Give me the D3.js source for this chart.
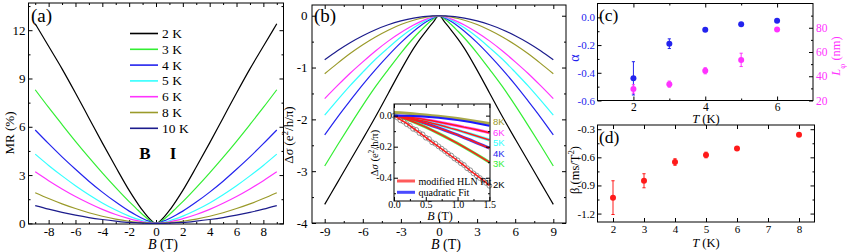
<!DOCTYPE html>
<html>
<head>
<meta charset="utf-8">
<script src="https://cdn.jsdelivr.net/npm/d3@7"></script>
<style>
body { margin: 0; background: #fff; }
svg { font-family: "Liberation Serif", "Times New Roman", serif; }
</style>
</head>
<body>
<script>
// ---- data ----
var temps = ["2 K", "3 K", "4 K", "5 K", "6 K", "8 K", "10 K"];
var colors = ["#000000", "#33ee33", "#2323ee", "#33ffff", "#ff33ff", "#9a9a2a", "#1c1c8c"];
var field = [0, 0.5, 1, 1.5, 2, 3, 4, 5, 6, 7, 8, 9];

// (a) MR (%)
var mr2K  = [0, 0.3, 0.8, 1.4, 2.05, 3.5, 5.0, 6.55, 8.1, 9.6, 11.0, 12.4];
var mr3K  = [0, 0.2, 0.55, 0.95, 1.35, 2.22, 3.14, 4.1, 5.1, 6.14, 7.2, 8.3];
var mr4K  = [0, 0.12, 0.3, 0.52, 0.76, 1.32, 1.94, 2.62, 3.36, 4.13, 4.95, 5.8];
var mr5K  = [0, 0.06, 0.16, 0.29, 0.45, 0.83, 1.27, 1.78, 2.34, 2.95, 3.6, 4.3];
var mr6K  = [0, 0.03, 0.1, 0.18, 0.29, 0.55, 0.87, 1.25, 1.67, 2.14, 2.65, 3.2];
var mr8K  = [0, 0.01, 0.04, 0.08, 0.13, 0.26, 0.44, 0.66, 0.92, 1.21, 1.54, 1.9];
var mr10K = [0, 0.005, 0.02, 0.04, 0.06, 0.14, 0.24, 0.36, 0.51, 0.68, 0.88, 1.1];

// (b) delta sigma (e^2/h/pi)
var ds2K  = [0, -0.14, -0.29, -0.45, -0.63, -1.05, -1.5, -1.95, -2.38, -2.8, -3.22, -3.64];
var ds3K  = [0, -0.074, -0.178, -0.3, -0.43, -0.72, -1.04, -1.37, -1.73, -2.11, -2.5, -2.9];
var ds4K  = [0, -0.046, -0.118, -0.205, -0.3, -0.52, -0.77, -1.04, -1.33, -1.64, -1.96, -2.3];
var ds5K  = [0, -0.034, -0.089, -0.156, -0.234, -0.41, -0.62, -0.84, -1.09, -1.35, -1.63, -1.92];
var ds6K  = [0, -0.024, -0.066, -0.119, -0.18, -0.325, -0.49, -0.68, -0.89, -1.11, -1.35, -1.6];
var ds8K  = [0, -0.008, -0.027, -0.053, -0.087, -0.17, -0.28, -0.41, -0.56, -0.73, -0.92, -1.12];
var ds10K = [0, -0.003, -0.012, -0.026, -0.045, -0.10, -0.175, -0.27, -0.385, -0.52, -0.675, -0.85];

// (b) inset, low field
var inField = [0, 0.1, 0.2, 0.3, 0.4, 0.5, 0.6, 0.7, 0.8, 0.9, 1.0, 1.1, 1.2, 1.3, 1.4, 1.5];
var in2K = [0, -0.025, -0.05, -0.08, -0.11, -0.14, -0.17, -0.2, -0.23, -0.26, -0.29, -0.32, -0.355, -0.385, -0.415, -0.45];
var in3K = [0, -0.01, -0.023, -0.039, -0.056, -0.074, -0.094, -0.114, -0.135, -0.157, -0.179, -0.202, -0.226, -0.25, -0.275, -0.3];
var in4K = [0, -0.006, -0.015, -0.026, -0.038, -0.051, -0.065, -0.079, -0.094, -0.109, -0.124, -0.141, -0.157, -0.175, -0.192, -0.21];
var in5K = [0, -0.0045, -0.011, -0.02, -0.029, -0.038, -0.049, -0.059, -0.07, -0.082, -0.093, -0.106, -0.118, -0.131, -0.144, -0.157];
var in6K = [0, -0.003, -0.007, -0.013, -0.019, -0.026, -0.033, -0.041, -0.049, -0.057, -0.065, -0.074, -0.082, -0.091, -0.1, -0.11];
var in8K = [0.02, 0.018, 0.015, 0.012, 0.008, 0.004, 0, -0.004, -0.009, -0.014, -0.019, -0.025, -0.031, -0.037, -0.044, -0.051];
var inQuad = [0, -0.0003, -0.0012, -0.0026, -0.0046, -0.0072, -0.0104, -0.0142, -0.0185, -0.0234, -0.0289, -0.035, -0.0416, -0.0488, -0.0566, -0.065];
var dotField = [0, 0.05, 0.1, 0.15, 0.2, 0.25, 0.3, 0.35, 0.4, 0.45, 0.5, 0.55, 0.6, 0.65, 0.7, 0.75,
                0.8, 0.85, 0.9, 0.95, 1.0, 1.05, 1.1, 1.15, 1.2, 1.25, 1.3, 1.35, 1.4, 1.45, 1.5];
var dot2K = [0, -0.012, -0.03, -0.038, -0.055, -0.066, -0.085, -0.092, -0.112, -0.121, -0.142, -0.15, -0.172, -0.181, -0.198, -0.213,
             -0.228, -0.245, -0.257, -0.276, -0.288, -0.306, -0.318, -0.339, -0.352, -0.372, -0.386, -0.402, -0.418, -0.434, -0.452];
var inLabels = ["8K", "6K", "5K", "4K", "3K", "2K"];
var inLabelColors = ["#9a9a2a", "#ff33ff", "#33ffff", "#2323ee", "#33ee33", "#000000"];

// (c) alpha and L_phi
var tempC = [2, 3, 4, 5, 6];
var alpha = [-0.44, -0.19, -0.09, -0.05, -0.025];
var alphaErr = [0.12, 0.035, 0.008, 0.006, 0.005];
var lphi = [29.5, 33.5, 44.5, 53.5, 78.5];
var lphiErr = [3.5, 2.5, 2.5, 5.5, 1];

// (d) beta
var tempD = [2, 3, 4, 5, 6, 8];
var beta = [-1.03, -0.85, -0.65, -0.575, -0.505, -0.36];
var betaErr = [0.18, 0.075, 0.035, 0.03, 0.02, 0.012];

// ---- helpers ----
var svg = d3.select("body").append("svg")
    .attr("width", 847)
    .attr("height", 252);

function fmt(p) {
  var f = d3.format(p);
  return function(d) { return f(d).replace("\u2212", "-"); };
}

function mirror(b, v) {
  var pts = b.map(function(d, i) { return [d, v[i]]; });
  return pts.slice(1).map(function(p) { return [-p[0], p[1]]; }).reverse().concat(pts);
}

function axis(g, gen, pos, vals, size, f, pad, fs) {
  var a = g.append("g")
      .attr("transform", pos)
      .call(gen.tickValues(vals).tickSize(size).tickPadding(pad === undefined ? 3 : pad).tickFormat(f || ""));
  a.select(".domain").remove();
  a.attr("font-family", null).attr("font-size", fs || 13);
  a.selectAll("line").style("stroke", "#000");
  return a;
}

function box(g, w, h) {
  g.append("rect")
      .attr("width", w)
      .attr("height", h)
      .style("fill", "none")
      .style("stroke", "#000")
      .style("stroke-width", 1);
}

function frame(g, x, y, w, h, o) {
  var b = "translate(0," + h + ")", r = "translate(" + w + ",0)";
  axis(g, d3.axisBottom(x), b, o.xt, -4, o.fx, o.px, o.fs);
  axis(g, d3.axisBottom(x), b, o.xm, -2);
  axis(g, d3.axisTop(x), null, o.xt, -4);
  axis(g, d3.axisTop(x), null, o.xm, -2);
  axis(g, d3.axisLeft(y), null, o.yt, -4, o.fy, o.py, o.fs);
  axis(g, d3.axisLeft(y), null, o.ym, -2);
  axis(g, d3.axisRight(y), r, o.yt, -4);
  axis(g, d3.axisRight(y), r, o.ym, -2);
  box(g, w, h);
}

function label(txt, x, y, size, opts) {
  opts = opts || {};
  var t = svg.append("text")
      .attr("x", x)
      .attr("y", y)
      .attr("font-size", size)
      .attr("text-anchor", opts.anchor || "middle")
      .style("fill", opts.color || "#000");
  if (opts.rotate) t.attr("transform", "rotate(-90," + x + "," + y + ")");
  if (opts.weight) t.attr("font-weight", opts.weight);
  txt.forEach(function(p) {
    var s = t.append("tspan").text(p.t);
    if (p.i) s.attr("font-style", "italic");
    if (p.sup) s.attr("baseline-shift", "super").attr("font-size", size * 0.7);
    if (p.sub) s.attr("baseline-shift", "sub").attr("font-size", size * 0.7);
  });
  return t;
}

// ---- (a) MR ----
var wA = 255, hA = 221;
var gA = svg.append("g").attr("transform", "translate(28.5,3)");
var xA = d3.scaleLinear().domain([-9.5, 9.5]).range([0, wA]);
var yA = d3.scaleLinear().domain([-0.04, 13.69]).range([hA, 0]);
var lineA = d3.line().x(function(d) { return xA(d[0]); }).y(function(d) { return yA(d[1]); }).curve(d3.curveMonotoneX);

frame(gA, xA, yA, wA, hA, {
  xt: [-8, -6, -4, -2, 0, 2, 4, 6, 8], xm: [-9, -7, -5, -3, -1, 1, 3, 5, 7, 9],
  yt: [0, 3, 6, 9, 12], ym: [1.5, 4.5, 7.5, 10.5, 13.5],
  fx: fmt("d"), fy: fmt("d"), px: 3, py: 3, fs: 13
});

var mrSeries = [mr2K, mr3K, mr4K, mr5K, mr6K, mr8K, mr10K];
mrSeries.forEach(function(s, i) {
  gA.append("path")
      .attr("d", lineA(mirror(field, s)))
      .style("fill", "none")
      .style("stroke", colors[i])
      .style("stroke-width", 1.2);
});

var legA = gA.append("g").attr("transform", "translate(101.5,30.5)");
temps.forEach(function(t, i) {
  legA.append("line")
      .attr("x1", 0).attr("x2", 28)
      .attr("y1", i * 15.8).attr("y2", i * 15.8)
      .style("stroke", colors[i])
      .style("stroke-width", 1.6);
  legA.append("text")
      .attr("x", 32).attr("y", i * 15.8 + 4.5)
      .attr("font-size", 13.5)
      .text(t);
});

label([{t: "(a)"}], 31, 22, 19, {anchor: "start"});
label([{t: "B"}], 145, 159, 17, {weight: "bold"});
label([{t: "I"}], 173, 159, 17, {weight: "bold"});
label([{t: "MR (%)"}], 14, 133, 13, {rotate: true});
label([{t: "B", i: true}, {t: " (T)"}], 148, 249, 14, {anchor: "start"});

// ---- (b) delta sigma ----
var wB = 254, hB = 218;
var gB = svg.append("g").attr("transform", "translate(312,5)");
var xB = d3.scaleLinear().domain([-10, 10]).range([0, wB]);
var yB = d3.scaleLinear().domain([-4, 0.207]).range([hB, 0]);
var lineB = d3.line().x(function(d) { return xB(d[0]); }).y(function(d) { return yB(d[1]); }).curve(d3.curveMonotoneX);

frame(gB, xB, yB, wB, hB, {
  xt: [-9, -6, -3, 0, 3, 6, 9], xm: [-7.5, -4.5, -1.5, 1.5, 4.5, 7.5],
  yt: [-4, -3, -2, -1, 0], ym: [-3.5, -2.5, -1.5, -0.5],
  fx: fmt("d"), fy: fmt("d"), px: 3.5, py: 4.5, fs: 13
});

var dsSeries = [ds2K, ds3K, ds4K, ds5K, ds6K, ds8K, ds10K];
dsSeries.forEach(function(s, i) {
  gB.append("path")
      .attr("d", lineB(mirror(field, s)))
      .style("fill", "none")
      .style("stroke", colors[i])
      .style("stroke-width", 1.2);
});

label([{t: "(b)"}], 314, 22, 19, {anchor: "start"});
label([{t: "\u0394"}, {t: "\u03c3", i: true}, {t: " (e"}, {t: "2", sup: true}, {t: "/h/\u03c0)"}], 293, 135, 13, {rotate: true});
label([{t: "B", i: true}, {t: " (T)"}], 431, 249, 14, {anchor: "start"});

// inset
var wI = 96, hI = 97;
var gI = svg.append("g").attr("transform", "translate(394,104)");
gI.append("rect").attr("width", wI).attr("height", hI).style("fill", "#fff");
var xI = d3.scaleLinear().domain([0, 1.51]).range([0, wI]);
var yI = d3.scaleLinear().domain([-0.55, 0.075]).range([hI, 0]);
var lineI = d3.line().x(function(d) { return xI(d[0]); }).y(function(d) { return yI(d[1]); });
function pairs(b, v) { return b.map(function(d, i) { return [d, v[i]]; }); }

var inData = [[in8K, "#9a9a2a"], [in6K, "#ff33ff"], [in5K, "#33ffff"], [in4K, "#2323ee"], [in3K, "#33ee33"]];
inData.forEach(function(s) {
  gI.append("path")
      .attr("d", lineI(pairs(inField, s[0])))
      .style("fill", "none")
      .style("stroke", s[1])
      .style("stroke-width", 3)
      .style("opacity", 0.85);
});

gI.selectAll("circle.d2")
    .data(pairs(dotField, dot2K))
  .enter().append("circle")
    .attr("cx", function(d) { return xI(d[0]); })
    .attr("cy", function(d) { return yI(d[1]); })
    .attr("r", 2.4)
    .style("fill", "none")
    .style("stroke", "#777")
    .style("stroke-width", 0.8);

[in2K, in3K, in4K, in5K, in6K].forEach(function(s) {
  gI.append("path")
      .attr("d", lineI(pairs(inField, s)))
      .style("fill", "none")
      .style("stroke", "#ff1a1a")
      .style("stroke-width", 1.5);
});
gI.append("path")
    .attr("d", lineI(pairs(inField, inQuad)))
    .style("fill", "none")
    .style("stroke", "#1a1aff")
    .style("stroke-width", 2);

frame(gI, xI, yI, wI, hI, {
  xt: [0, 0.5, 1, 1.5], xm: [0.25, 0.75, 1.25],
  yt: [-0.4, -0.2, 0], ym: [-0.5, -0.3, -0.1],
  fx: fmt(".1f"), fy: fmt(".1f"), px: 0, py: 2, fs: 10
});

var legI = gI.append("g").attr("transform", "translate(3,77)");
[["modified HLN Fit", "#ff5a5a"], ["quadratic Fit", "#4a4aff"]].forEach(function(d, i) {
  legI.append("line")
      .attr("x1", 0).attr("x2", 18)
      .attr("y1", i * 11.3).attr("y2", i * 11.3)
      .style("stroke", d[1])
      .style("stroke-width", 3);
  legI.append("text")
      .attr("x", 21.5).attr("y", i * 11.3 + 3.5)
      .attr("font-size", 10)
      .text(d[0]);
});

var inLabelY = [121.5, 132, 142.5, 153, 163.5, 184.5];
inLabels.forEach(function(t, i) {
  svg.append("text")
      .attr("x", 493)
      .attr("y", inLabelY[i] + 3.5)
      .attr("font-family", "Liberation Sans, Arial, sans-serif")
      .attr("font-size", 9.5)
      .style("fill", inLabelColors[i])
      .text(t);
});
label([{t: "\u0394"}, {t: "\u03c3", i: true}, {t: " (e"}, {t: "2", sup: true}, {t: "/h/\u03c0)"}], 377.5, 153, 10.5, {rotate: true});
label([{t: "B", i: true}, {t: " (T)"}], 440, 219.5, 12);

// ---- (c) alpha, L_phi ----
var wC = 215.5, hC = 97;
var gC = svg.append("g").attr("transform", "translate(597.5,3.5)");
var xC = d3.scaleLinear().domain([1, 7]).range([0, wC]);
var yC = d3.scaleLinear().domain([-0.6, 0.1]).range([hC, 0]);
var yC2 = d3.scaleLinear().domain([20, 100]).range([hC, 0]);

var b = "translate(0," + hC + ")", r = "translate(" + wC + ",0)";
axis(gC, d3.axisBottom(xC), b, [2, 4, 6], -4, fmt("d"), 2, 11.5);
axis(gC, d3.axisBottom(xC), b, [3, 5], -2);
axis(gC, d3.axisTop(xC), null, [2, 4, 6], -4);
axis(gC, d3.axisTop(xC), null, [3, 5], -2);
axis(gC, d3.axisLeft(yC), null, [-0.6, -0.4, -0.2, 0], -4, fmt(".1f"), 2.5, 11)
    .selectAll("text").style("fill", "#2323ee");
axis(gC, d3.axisLeft(yC), null, [-0.5, -0.3, -0.1], -2);
axis(gC, d3.axisRight(yC2), r, [20, 40, 60, 80], -4, fmt("d"), 3, 11.5)
    .selectAll("text").style("fill", "#ff33ff");
axis(gC, d3.axisRight(yC2), r, [30, 50, 70, 90], -2);
box(gC, wC, hC);

function errorBars(g, x, y, xs, ys, es, color) {
  var grp = g.append("g").style("stroke", color).style("stroke-width", 1);
  xs.forEach(function(t, i) {
    grp.append("line")
        .attr("x1", x(t)).attr("x2", x(t))
        .attr("y1", y(ys[i] - es[i])).attr("y2", y(ys[i] + es[i]));
    [ys[i] - es[i], ys[i] + es[i]].forEach(function(v) {
      grp.append("line")
          .attr("x1", x(t) - 1.6).attr("x2", x(t) + 1.6)
          .attr("y1", y(v)).attr("y2", y(v));
    });
  });
  g.selectAll(null)
      .data(xs)
    .enter().append("circle")
      .attr("cx", function(t) { return x(t); })
      .attr("cy", function(t, i) { return y(ys[i]); })
      .attr("r", 3)
      .style("fill", color);
}

errorBars(gC, xC, yC, tempC, alpha, alphaErr, "#2323ee");
errorBars(gC, xC, yC2, tempC, lphi, lphiErr, "#ff33ff");

label([{t: "(c)"}], 599, 21, 17.5, {anchor: "start"});
label([{t: "\u03b1"}], 579, 58, 14, {rotate: true, color: "#2323ee"});
label([{t: "L", i: true}, {t: "\u03c6", sub: true}, {t: " (nm)"}], 840, 56, 12.5, {rotate: true, color: "#ff33ff"});
label([{t: "T", i: true}, {t: " (K)"}], 706, 123, 12.5);

// ---- (d) beta ----
var wD = 217, hD = 97;
var gD = svg.append("g").attr("transform", "translate(597.5,125)");
var xD = d3.scaleLinear().domain([1.5, 8.5]).range([0, wD]);
var yD = d3.scaleLinear().domain([-1.29, -0.255]).range([hD, 0]);

frame(gD, xD, yD, wD, hD, {
  xt: [2, 3, 4, 5, 6, 7, 8], xm: [],
  yt: [-1.2, -0.9, -0.6, -0.3], ym: [-1.05, -0.75, -0.45],
  fx: fmt("d"), fy: fmt(".1f"), px: 3.5, py: 2.5, fs: 11
});

errorBars(gD, xD, yD, tempD, beta, betaErr, "#ff1a1a");

label([{t: "(d)"}], 599, 143, 17.5, {anchor: "start"});
label([{t: "\u03b2 (ms/T"}, {t: "2", sup: true}, {t: ")"}], 579, 170, 12.5, {rotate: true});
label([{t: "T", i: true}, {t: " (K)"}], 706, 246.5, 12.5);
</script>
</body>
</html>
